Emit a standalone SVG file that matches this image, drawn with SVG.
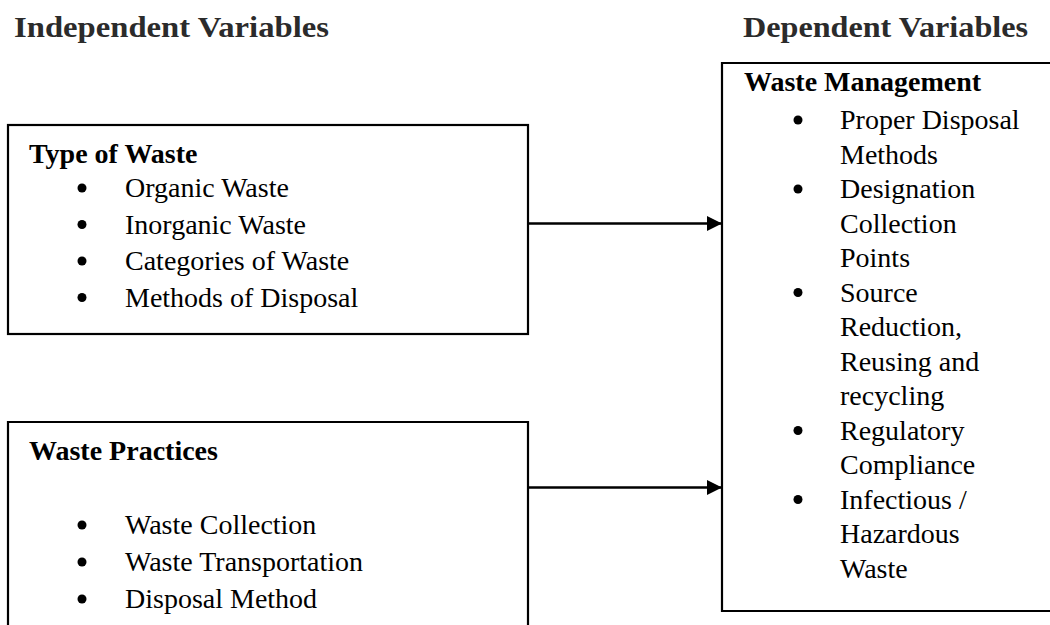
<svg xmlns="http://www.w3.org/2000/svg" width="1050" height="625" viewBox="0 0 1050 625">
  <defs>
    <marker id="arrow" markerWidth="15" markerHeight="15" refX="14" refY="7.5" orient="auto" markerUnits="userSpaceOnUse">
      <path d="M0,0 L15,7.5 L0,15 Z" fill="#000"/>
    </marker>
    <style>
      .hdr { font-family: "Liberation Serif", "Times New Roman", serif; font-weight: bold; font-size: 30px; fill: #2b2b2b; }
      .ttl { font-family: "Liberation Serif", "Times New Roman", serif; font-weight: bold; font-size: 28px; fill: #000; }
      .itm { font-family: "Liberation Serif", "Times New Roman", serif; font-size: 28px; fill: #000; }
      .box { fill: none; stroke: #000; stroke-width: 2.2; }
      .bul { fill: #000; }
      .con { fill: none; stroke: #000; stroke-width: 2.5; }
    </style>
  </defs>
  <rect width="1050" height="625" fill="#fff"/>

  <g id="headers">
    <text class="hdr" x="14" y="37" textLength="315" lengthAdjust="spacingAndGlyphs">Independent Variables</text>
    <text class="hdr" x="743" y="37" textLength="285" lengthAdjust="spacingAndGlyphs">Dependent Variables</text>
  </g>

  <g id="type-of-waste">
    <rect class="box" x="8" y="125" width="520" height="209"/>
    <text class="ttl" x="29" y="163">Type of Waste</text>
    <circle class="bul" cx="82" cy="188" r="4.5"/>
    <text class="itm" x="125" y="197">Organic Waste</text>
    <circle class="bul" cx="82" cy="224.5" r="4.5"/>
    <text class="itm" x="125" y="233.5">Inorganic Waste</text>
    <circle class="bul" cx="82" cy="261" r="4.5"/>
    <text class="itm" x="125" y="270">Categories of Waste</text>
    <circle class="bul" cx="82" cy="297.5" r="4.5"/>
    <text class="itm" x="125" y="306.5">Methods of Disposal</text>
  </g>

  <g id="waste-practices">
    <path class="box" d="M8,626 V422 H528 V626"/>
    <text class="ttl" x="29" y="460">Waste Practices</text>
    <circle class="bul" cx="82" cy="525" r="4.5"/>
    <text class="itm" x="125" y="534">Waste Collection</text>
    <circle class="bul" cx="82" cy="562" r="4.5"/>
    <text class="itm" x="125" y="571">Waste Transportation</text>
    <circle class="bul" cx="82" cy="599" r="4.5"/>
    <text class="itm" x="125" y="608">Disposal Method</text>
  </g>

  <g id="waste-management">
    <path class="box" d="M1052,611 H722 V63 H1052"/>
    <text class="ttl" x="744" y="91">Waste Management</text>
    <circle class="bul" cx="798" cy="120" r="4.5"/>
    <text class="itm" x="840" y="129">Proper Disposal</text>
    <text class="itm" x="840" y="163.5">Methods</text>
    <circle class="bul" cx="798" cy="189" r="4.5"/>
    <text class="itm" x="840" y="198">Designation</text>
    <text class="itm" x="840" y="232.5">Collection</text>
    <text class="itm" x="840" y="267">Points</text>
    <circle class="bul" cx="798" cy="292.5" r="4.5"/>
    <text class="itm" x="840" y="301.5">Source</text>
    <text class="itm" x="840" y="336">Reduction,</text>
    <text class="itm" x="840" y="370.5">Reusing and</text>
    <text class="itm" x="840" y="405">recycling</text>
    <circle class="bul" cx="798" cy="430.5" r="4.5"/>
    <text class="itm" x="840" y="439.5">Regulatory</text>
    <text class="itm" x="840" y="474">Compliance</text>
    <circle class="bul" cx="798" cy="499.5" r="4.5"/>
    <text class="itm" x="840" y="508.5">Infectious /</text>
    <text class="itm" x="840" y="543">Hazardous</text>
    <text class="itm" x="840" y="577.5">Waste</text>
  </g>

  <g id="connectors">
    <line class="con" x1="528" y1="223.5" x2="721" y2="223.5" marker-end="url(#arrow)"/>
    <line class="con" x1="528" y1="487.5" x2="721" y2="487.5" marker-end="url(#arrow)"/>
  </g>
</svg>
